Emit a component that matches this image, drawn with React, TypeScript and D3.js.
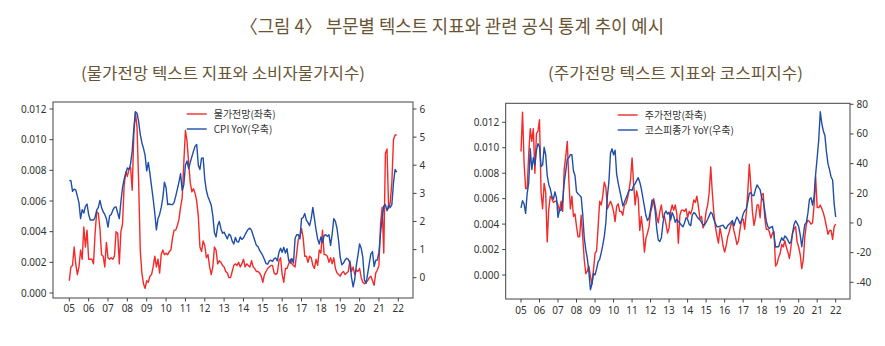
import React from 'react';
import * as d3 from 'd3';

// ---------- data (monthly, starting Jan 2005) ----------
const startYear = 2005;
const xTickYears = d3.range(2005, 2023);
const xTickLabels = xTickYears.map((y) => String(y % 100).padStart(2, '0'));

const leftAxisTicks = [0, 0.002, 0.004, 0.006, 0.008, 0.01, 0.012];
const cpiAxisTicks = [0, 1, 2, 3, 4, 5, 6];
const kospiAxisTicks = [-40, -20, 0, 20, 40, 60, 80];

const priceText = [
  0.0008, 0.0017, 0.0018, 0.003, 0.0019, 0.0012, 0.0017, 0.0028, 0.0022, 0.0043, 0.003, 0.0041,
  0.0022, 0.0022, 0.0022, 0.0019, 0.0039, 0.0053, 0.0052, 0.0042, 0.0025, 0.0024, 0.0017, 0.0033,
  0.0023, 0.0022, 0.0023, 0.0022, 0.0024, 0.004, 0.0039, 0.0019, 0.004, 0.0045, 0.007, 0.0079,
  0.0076, 0.0081, 0.0082, 0.0067, 0.0103, 0.0118, 0.0108, 0.0072, 0.0028, 0.0013, 0.0006, 0.0003,
  0.0008, 0.0007, 0.0011, 0.0012, 0.0017, 0.0024, 0.0017, 0.0022, 0.0013, 0.0025, 0.0028, 0.0025,
  0.0026, 0.0025, 0.0027, 0.0028, 0.0036, 0.0041, 0.0041, 0.0044, 0.0048, 0.0056, 0.0062, 0.0085,
  0.0106, 0.0099, 0.0085, 0.0072, 0.0066, 0.0068, 0.0065, 0.006, 0.005, 0.003, 0.0027, 0.0034,
  0.0031, 0.0023, 0.0025, 0.0017, 0.0012, 0.0017, 0.003, 0.0028, 0.0019, 0.0021, 0.002, 0.0018,
  0.0017, 0.0014, 0.0013, 0.001, 0.001, 0.0014, 0.0018, 0.0019, 0.0018, 0.002, 0.0017, 0.0019,
  0.0022, 0.0017, 0.0019, 0.0018, 0.0017, 0.0021, 0.0017, 0.0016, 0.0014, 0.0014, 0.0013, 0.0011,
  0.0007, 0.0012, 0.0014, 0.0016, 0.0017, 0.0018, 0.0018, 0.0013, 0.0012, 0.0013, 0.0021, 0.0023,
  0.0012, 0.0007, 0.0016, 0.0016, 0.0019, 0.0022, 0.0019, 0.0018, 0.0017, 0.0026, 0.0035, 0.0037,
  0.0042, 0.0036, 0.0024, 0.0024, 0.002, 0.0024, 0.0023, 0.0018, 0.0016, 0.0022, 0.0018, 0.0028,
  0.0026, 0.0041, 0.0025, 0.0025, 0.0024, 0.002, 0.0023, 0.0019, 0.0023, 0.0016, 0.0013, 0.0012,
  0.0011, 0.0013, 0.0014, 0.0012, 0.0013, 0.0014, 0.0021, 0.0014, 0.0017, 0.0012, 0.0015, 0.0014,
  0.0016, 0.001, 0.0007, 0.0006, 0.0007, 0.0008, 0.001, 0.0011, 0.0008, 0.0005, 0.0013, 0.0015,
  0.0018, 0.0045, 0.0056, 0.0026, 0.0091, 0.0094, 0.0055, 0.0059, 0.0072, 0.01, 0.0103, 0.0103,
];

const cpiYoY = [
  3.46, 3.45, 3.07, 3.15, 3.12, 2.9, 2.66, 2.1, 2.42, 2.3, 2.54, 2.62,
  2.25, 2.05, 2.05, 2.05, 2.15, 2.4, 2.5, 2.75, 2.5, 2.35, 2.25, 2.1,
  1.8, 2.2, 2.25, 2.4, 2.5, 2.52, 2.3, 2.1, 2.7, 3.2, 3.5, 3.7,
  3.9, 3.85, 4.05, 4.5, 5.3, 5.9, 5.85, 5.55, 5.1, 4.8, 4.6, 4.35,
  3.8, 4.1, 3.7, 3.25, 2.8, 2.3, 1.7, 2.1, 2.25, 2.5, 2.85, 3.4,
  3.2, 2.6, 2.62, 2.6, 2.6, 2.68, 2.9, 3.15, 3.4, 3.7, 3.1, 3.3,
  4.0, 4.15, 3.88, 4.1, 4.3, 4.5, 4.68, 4.74, 4.0, 3.85, 4.25, 4.26,
  3.5, 3.1, 2.88, 2.74, 2.58, 2.2, 1.6, 1.45, 1.85, 2.0, 1.75, 1.58,
  1.62, 1.5, 1.38, 1.55, 1.5, 1.3, 1.2, 1.43, 1.28, 1.27, 1.45, 1.36,
  1.41, 1.53, 1.64, 1.73, 1.76, 1.68, 1.5, 1.32, 1.15, 1.11, 0.97, 0.88,
  0.78, 0.65, 0.5, 0.48, 0.6, 0.62, 0.58, 0.68, 0.7, 0.6, 0.9, 1.05,
  0.9, 1.08, 0.88, 1.03, 0.62, 0.52, 0.68, 0.52, 1.4, 1.53, 1.53, 1.38,
  2.1, 2.14, 2.28, 2.05, 1.96, 1.85, 2.1, 2.5, 2.1, 1.7, 1.38, 1.2,
  1.45, 1.25, 1.5, 1.53, 1.47, 1.53, 1.15, 1.55, 2.1, 2.0, 1.75, 1.3,
  0.72, 0.46, 0.52, 0.63, 0.69, 0.65, 0.52, 0.0, -0.33, -0.05, 0.45, 0.8,
  1.2, 1.05, 0.72, -0.08, -0.2, 0.14, 0.5, 0.85, 0.93, 0.4, 0.62, 0.63,
  0.9, 1.6, 2.1, 2.55, 2.6, 2.38, 2.58, 2.5, 2.6, 3.37, 3.85, 3.75,
];

const stockText = [
  0.0097, 0.0128, 0.0088, 0.0068, 0.0068, 0.0095, 0.0115, 0.0105, 0.0115, 0.008, 0.0111, 0.0113,
  0.0122, 0.0065, 0.0052, 0.0072, 0.0065, 0.0026, 0.0052, 0.0062, 0.006, 0.0057, 0.0058, 0.0058,
  0.0055, 0.005, 0.0058, 0.005, 0.0083, 0.0093, 0.0105, 0.0075, 0.0052, 0.0062, 0.0046, 0.0048,
  0.0038, 0.003, 0.003, 0.0047, 0.003, 0.0012, 0.0001, 0.0003, 0.0007, -0.0001, -0.0007, 0.0004,
  0.0017, 0.0019, 0.0038, 0.0058, 0.0055, 0.0062, 0.0073, 0.0069, 0.0052, 0.0055, 0.0058, 0.0055,
  0.005, 0.0042, 0.0054, 0.0056, 0.005, 0.005, 0.0047, 0.0055, 0.0056, 0.006, 0.0066, 0.0075,
  0.0092, 0.0072, 0.0055, 0.0066, 0.006, 0.0035, 0.0046, 0.0035, 0.0018, 0.0029, 0.0033, 0.0038,
  0.0049, 0.0054, 0.006, 0.0054, 0.0046, 0.0041, 0.005, 0.0055, 0.0045, 0.0046, 0.004, 0.0033,
  0.0037, 0.005, 0.0055, 0.0051, 0.0055, 0.0048, 0.0025, 0.0047, 0.0051, 0.0051, 0.005, 0.0052,
  0.0045, 0.005, 0.0048, 0.0052, 0.0059, 0.0057, 0.0062, 0.0054, 0.0044, 0.0046, 0.0037, 0.004,
  0.005, 0.0055, 0.0065, 0.0085, 0.0065, 0.0049, 0.0038, 0.0031, 0.0025, 0.0037, 0.0031, 0.0023,
  0.0018, 0.0023, 0.003, 0.0034, 0.0039, 0.0042, 0.0035, 0.003, 0.0024, 0.0027, 0.0036, 0.0043,
  0.0044, 0.0036, 0.0048, 0.0065, 0.0087, 0.007, 0.005, 0.0039, 0.0045, 0.0055, 0.0055, 0.0045,
  0.0063, 0.0064, 0.0045, 0.0036, 0.0036, 0.0034, 0.0029, 0.0033, 0.0034, 0.0007, 0.0009, 0.0014,
  0.0017, 0.0024, 0.0022, 0.0027, 0.0022, 0.0018, 0.0013, 0.0022, 0.0033, 0.0036, 0.0038, 0.0026,
  0.0022, 0.0016, 0.0005, 0.0012, 0.003, 0.004, 0.0043, 0.0042, 0.004, 0.0041, 0.0055, 0.0077,
  0.0053, 0.0053, 0.0055, 0.0052, 0.0049, 0.0044, 0.0038, 0.0032, 0.0035, 0.0035, 0.0028, 0.0038, 0.004,
];

const kospiYoY = [
  10.2, 15, 12.8, 6.5, 20, 27, 50, 36, 44, 39, 49, 53.5,
  51.5, 38, 39, 51, 46, 32, 26, 23, 18, 16, 21, 17,
  3.8, 9, 8.5, 15, 27, 35, 43, 44, 46, 46, 35, 32,
  21, 19.7, 18.6, 17.5, 6, -10, -18, -24, -33, -45, -41, -34,
  -35, -31, -26, -24.5, -20, -15, -9, 0, 18, 28, 47, 50,
  46, 49, 33, 27, 22, 17, 11.5, 14, 16.5, 19, 22, 22.5,
  22, 25.3, 26.4, 28.7, 30.5, 27.5, 23, 17, 11, 5, 1.6, 3.5,
  9, 15.5, 14.5, 8, -4, -11.5, -12.5, -10, -0.5, 6.3, 8, 6,
  7.2, 2, 7, 4.5, 0.5, 2.5, 1, -0.2, -1.5, -2.5, 0, 3.6,
  2.4, -0.8, -1.8, 5.3, 7, 6.3, 4.5, 3, 2.1, 0.6, -1.2, -1.2,
  0.4, 2.5, 4.8, 7.2, 6.2, 2.3, -0.3, -2.5, -2.5, -2.2, -1.8, -1.5,
  -3.3, -3.8, -1.7, -0.8, 0.4, 1.6, -2, 1.5, 4, 2, -0.5, 1.8,
  6, 8.2, 9.3, 14, 20, 20.5, 18.5, 18.5, 22.5, 25.7, 24, 22.5,
  17.2, 15, 8.6, 1.2, -2.4, -3.8, -2.8, -2.4, -8, -16.2, -16, -16,
  -12.8, -10, -11.8, -8.8, -9.7, -11.6, -13.8, -12.8, -7.3, -1, 1.5, -0.3,
  -2.4, -8, -16, -8.3, -1, 0.2, 6.8, 16, 17, 12, 18, 33,
  44, 56, 75, 67, 62, 59, 48, 40, 36, 31, 29, 13, 4,
];

// ---------- styling ----------
const RED = '#f42a2a';
const BLUE = '#1f4eaa';
const AXIS = '#444';
const TEXT = '#333';
const TITLE = '#6a5434';
const KFONT = "'Noto Sans CJK KR', 'Noto Sans', sans-serif";
const NFONT = "'Noto Sans', 'DejaVu Sans', sans-serif";

type PanelProps = {
  frame: { x0: number; x1: number; y0: number; y1: number };
  xRange: [number, number];
  yLRange: [number, number];
  yRDomain: [number, number];
  yRRange: [number, number];
  leftSeries: number[];
  rightSeries: number[];
  rightTicks: number[];
  rightFmt: (v: number) => string;
  legendX: number;
  legendY: number;
  legendLabels: [string, string];
  xLabelY: number;
};

function Panel(p: PanelProps) {
  const { frame } = p;
  const x = d3.scaleLinear().domain([2005, 2022]).range(p.xRange);
  const yL = d3.scaleLinear().domain([0, 0.012]).range(p.yLRange);
  const yR = d3.scaleLinear().domain(p.yRDomain).range(p.yRRange);
  const t = (i: number) => startYear + i / 12;
  const lineL = d3.line<number>().x((_, i) => x(t(i))).y((d) => yL(d));
  const lineR = d3.line<number>().x((_, i) => x(t(i))).y((d) => yR(d));
  const tick = 3.5;
  return (
    <g>
      <path d={lineL(p.leftSeries) || ''} fill="none" stroke={RED} strokeWidth={1.4} strokeLinejoin="round" />
      <path d={lineR(p.rightSeries) || ''} fill="none" stroke={BLUE} strokeWidth={1.4} strokeLinejoin="round" />
      <rect x={frame.x0} y={frame.y0} width={frame.x1 - frame.x0} height={frame.y1 - frame.y0} fill="none" stroke={AXIS} strokeWidth={1} />
      {leftAxisTicks.map((v) => (
        <g key={'l' + v}>
          <line x1={frame.x0 - tick} x2={frame.x0} y1={yL(v)} y2={yL(v)} stroke={AXIS} />
          <text x={frame.x0 - tick - 3} y={yL(v)} dy="0.35em" textAnchor="end" fontSize={10} fontFamily={NFONT} fill={TEXT}>
            {d3.format('.3f')(v)}
          </text>
        </g>
      ))}
      {p.rightTicks.map((v) => (
        <g key={'r' + v}>
          <line x1={frame.x1} x2={frame.x1 + tick} y1={yR(v)} y2={yR(v)} stroke={AXIS} />
          <text x={frame.x1 + tick + 3} y={yR(v)} dy="0.35em" textAnchor="start" fontSize={10} fontFamily={NFONT} fill={TEXT}>
            {p.rightFmt(v)}
          </text>
        </g>
      ))}
      {xTickYears.map((yr, i) => (
        <g key={'x' + yr}>
          <line x1={x(yr)} x2={x(yr)} y1={frame.y1} y2={frame.y1 + tick} stroke={AXIS} />
          <text x={x(yr)} y={p.xLabelY} textAnchor="middle" fontSize={10} fontFamily={NFONT} fill={TEXT}>
            {xTickLabels[i]}
          </text>
        </g>
      ))}
      <g>
        <line x1={p.legendX} x2={p.legendX + 20} y1={p.legendY} y2={p.legendY} stroke={RED} strokeWidth={1.4} />
        <text x={p.legendX + 27} y={p.legendY} dy="0.35em" fontSize={10} fontFamily={KFONT} fill={TEXT}>
          {p.legendLabels[0]}
        </text>
        <line x1={p.legendX} x2={p.legendX + 20} y1={p.legendY + 15} y2={p.legendY + 15} stroke={BLUE} strokeWidth={1.4} />
        <text x={p.legendX + 27} y={p.legendY + 15} dy="0.35em" fontSize={10} fontFamily={KFONT} fill={TEXT}>
          {p.legendLabels[1]}
        </text>
      </g>
    </g>
  );
}

export default function App() {
  return (
    <svg width={885} height={346} style={{ position: 'absolute', left: 0, top: 0, background: '#fff' }}>
      <rect x={0} y={0} width={885} height={346} fill="#fff" />
      <text x={240} y={32.5} fontSize={18.5} fontWeight={400} fontFamily={KFONT} fill={TITLE} textLength={424} lengthAdjust="spacingAndGlyphs">
        〈그림 4〉 부문별 텍스트 지표와 관련 공식 통계 추이 예시
      </text>
      <text x={81} y={79} fontSize={16} fontWeight={400} fontFamily={KFONT} fill={TITLE} textLength={284} lengthAdjust="spacingAndGlyphs">
        (물가전망 텍스트 지표와 소비자물가지수)
      </text>
      <text x={548} y={79} fontSize={16} fontWeight={400} fontFamily={KFONT} fill={TITLE} textLength={255} lengthAdjust="spacingAndGlyphs">
        (주가전망 텍스트 지표와 코스피지수)
      </text>
      <Panel
        frame={{ x0: 53, x1: 413, y0: 102, y1: 298 }}
        xRange={[69.3, 398.3]}
        yLRange={[293, 109]}
        yRDomain={[0, 6]}
        yRRange={[277.7, 109]}
        leftSeries={priceText}
        rightSeries={cpiYoY}
        rightTicks={cpiAxisTicks}
        rightFmt={(v) => String(v)}
        legendX={186.7}
        legendY={114}
        legendLabels={['물가전망(좌축)', 'CPI YoY(우축)']}
        xLabelY={312}
      />
      <Panel
        frame={{ x0: 505.7, x1: 850, y0: 103.3, y1: 299 }}
        xRange={[521, 835.7]}
        yLRange={[275, 122.3]}
        yRDomain={[-40, 80]}
        yRRange={[282.3, 104.3]}
        leftSeries={stockText}
        rightSeries={kospiYoY}
        rightTicks={kospiAxisTicks}
        rightFmt={(v) => String(v)}
        legendX={617.7}
        legendY={115}
        legendLabels={['주가전망(좌축)', '코스피종가 YoY(우축)']}
        xLabelY={314}
      />
    </svg>
  );
}
